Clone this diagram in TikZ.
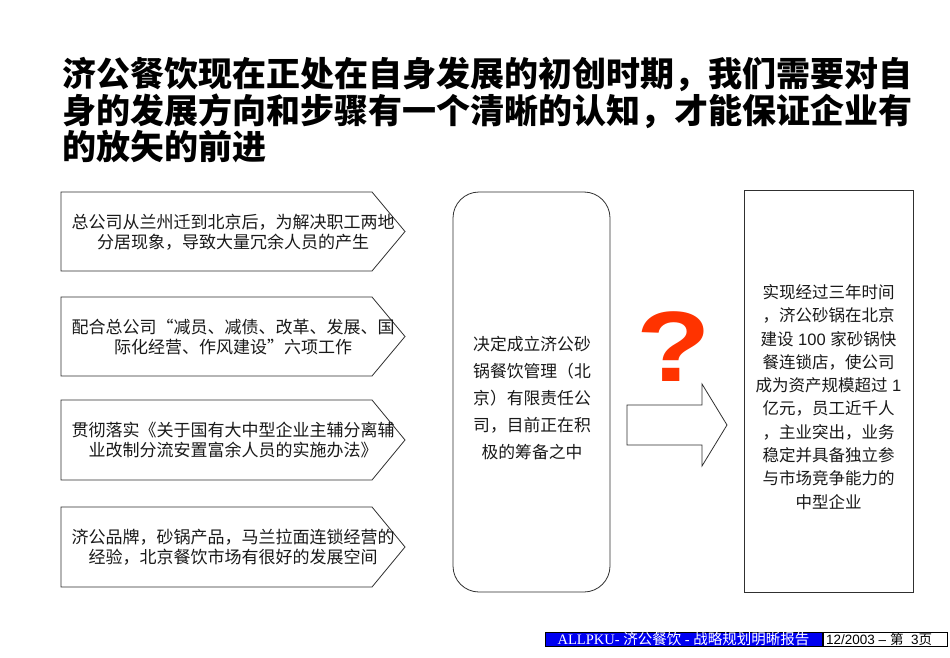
\documentclass[tikz,border=0pt]{standalone}
\usepackage{fontspec}
\usepackage{graphicx}
\setmainfont{Liberation Serif}
\setsansfont{Liberation Sans}
\newfontfamily\cjk{Noto Sans CJK SC}
\definecolor{qred}{HTML}{FF3300}
\definecolor{footblue}{HTML}{0000F0}
\definecolor{lineg}{HTML}{303030}
\tikzset{
  box/.style={draw=lineg, line width=0.8pt, fill=white},
  bodytxt/.style={align=center, inner sep=0pt, font=\cjk\fontsize{17}{20.5}\selectfont, text=black!90},
  midtxt/.style={align=center, inner sep=0pt, font=\cjk\fontsize{16.8}{27}\selectfont, text=black!90},
  righttxt/.style={align=center, inner sep=0pt, font=\cjk\fontsize{16.5}{23.3}\selectfont, text=black!90},
  titletxt/.style={align=left, inner sep=0pt, anchor=north west, font=\cjk\bfseries\fontsize{34}{36.5}\selectfont},
}
\newcommand\pentbox[2]{%
  \draw[box] (61,#1) -- (372,#1) -- (405,{(#1+#2)/2}) -- (372,#2) -- (61,#2) -- cycle;}
\begin{document}
\begin{tikzpicture}[x=1pt,y=-1pt]
\useasboundingbox (0,0) rectangle (950,658);
\fill[white] (0,0) rectangle (950,658);
% title
\node[titletxt] (title) at (62,57) {济公餐饮现在正处在自身发展的初创时期，我们需要对自\\身的发展方向和步骤有一个清晰的认知，才能保证企业有\\的放矢的前进};
% left pentagon boxes
\pentbox{192}{271}
\node[bodytxt] (l1) at (233,232) {总公司从兰州迁到北京后，为解决职工两地\\分居现象，导致大量冗余人员的产生};
\pentbox{297}{376}
\node[bodytxt] (l2) at (233,337) {配合总公司“减员、减债、改革、发展、国\\际化经营、作风建设”六项工作};
\pentbox{400}{480}
\node[bodytxt] (l3) at (233,440) {贯彻落实《关于国有大中型企业主辅分离辅\\业改制分流安置富余人员的实施办法》};
\pentbox{507}{587}
\node[bodytxt] (l4) at (233,547) {济公品牌，砂锅产品，马兰拉面连锁经营的\\经验，北京餐饮市场有很好的发展空间};
% middle rounded box
\node[box, rounded corners=26pt, minimum width=157pt, minimum height=400pt, inner sep=0pt] (mid) at (531.5,392) {};
\node[midtxt] (midt) at (532,398) {决定成立济公砂\\锅餐饮管理（北\\京）有限责任公\\司，目前正在积\\极的筹备之中};
% question mark
\node[anchor=base, inner sep=0pt, text=qred, font=\sffamily\bfseries\fontsize{100}{100}\selectfont] (q) at (674,381) {\scalebox{1.22}[1]{?}};
% big arrow
\draw[box] (627,405) -- (702,405) -- (702,384) -- (727,425) -- (702,466) -- (702,445) -- (627,445) -- cycle;
% right box
\node[box, minimum width=169pt, minimum height=402pt, inner sep=0pt] (right) at (828.5,391) {};
\node[righttxt] (rightt) at (828.5,397) {实现经过三年时间\\，济公砂锅在北京\\建设{\sffamily\ 100 }家砂锅快\\餐连锁店，使公司\\成为资产规模超过{\sffamily\ 1}\\亿元，员工近千人\\，主业突出，业务\\稳定并具备独立参\\与市场竞争能力的\\中型企业};
% footer
\node[fill=footblue, draw=black, line width=0.5pt, minimum width=277pt, minimum height=14pt, inner sep=0pt, text=white, font=\fontsize{14.5}{15}\selectfont] (foot1) at (683.5,639.5) {ALLPKU- {\cjk 济公餐饮} - {\cjk 战略规划明晰报告}};
\node[fill=white, draw=black, line width=0.6pt, minimum width=124pt, minimum height=14pt, inner sep=0pt] (foot2) at (885,639.5) {};
\node[anchor=west, inner sep=0pt, font=\sffamily\fontsize{13.5}{14}\selectfont] (foot2t) at (826,639.5) {12/2003 – {\cjk 第}\ \ 3{\cjk 页}};
\end{tikzpicture}
\end{document}
